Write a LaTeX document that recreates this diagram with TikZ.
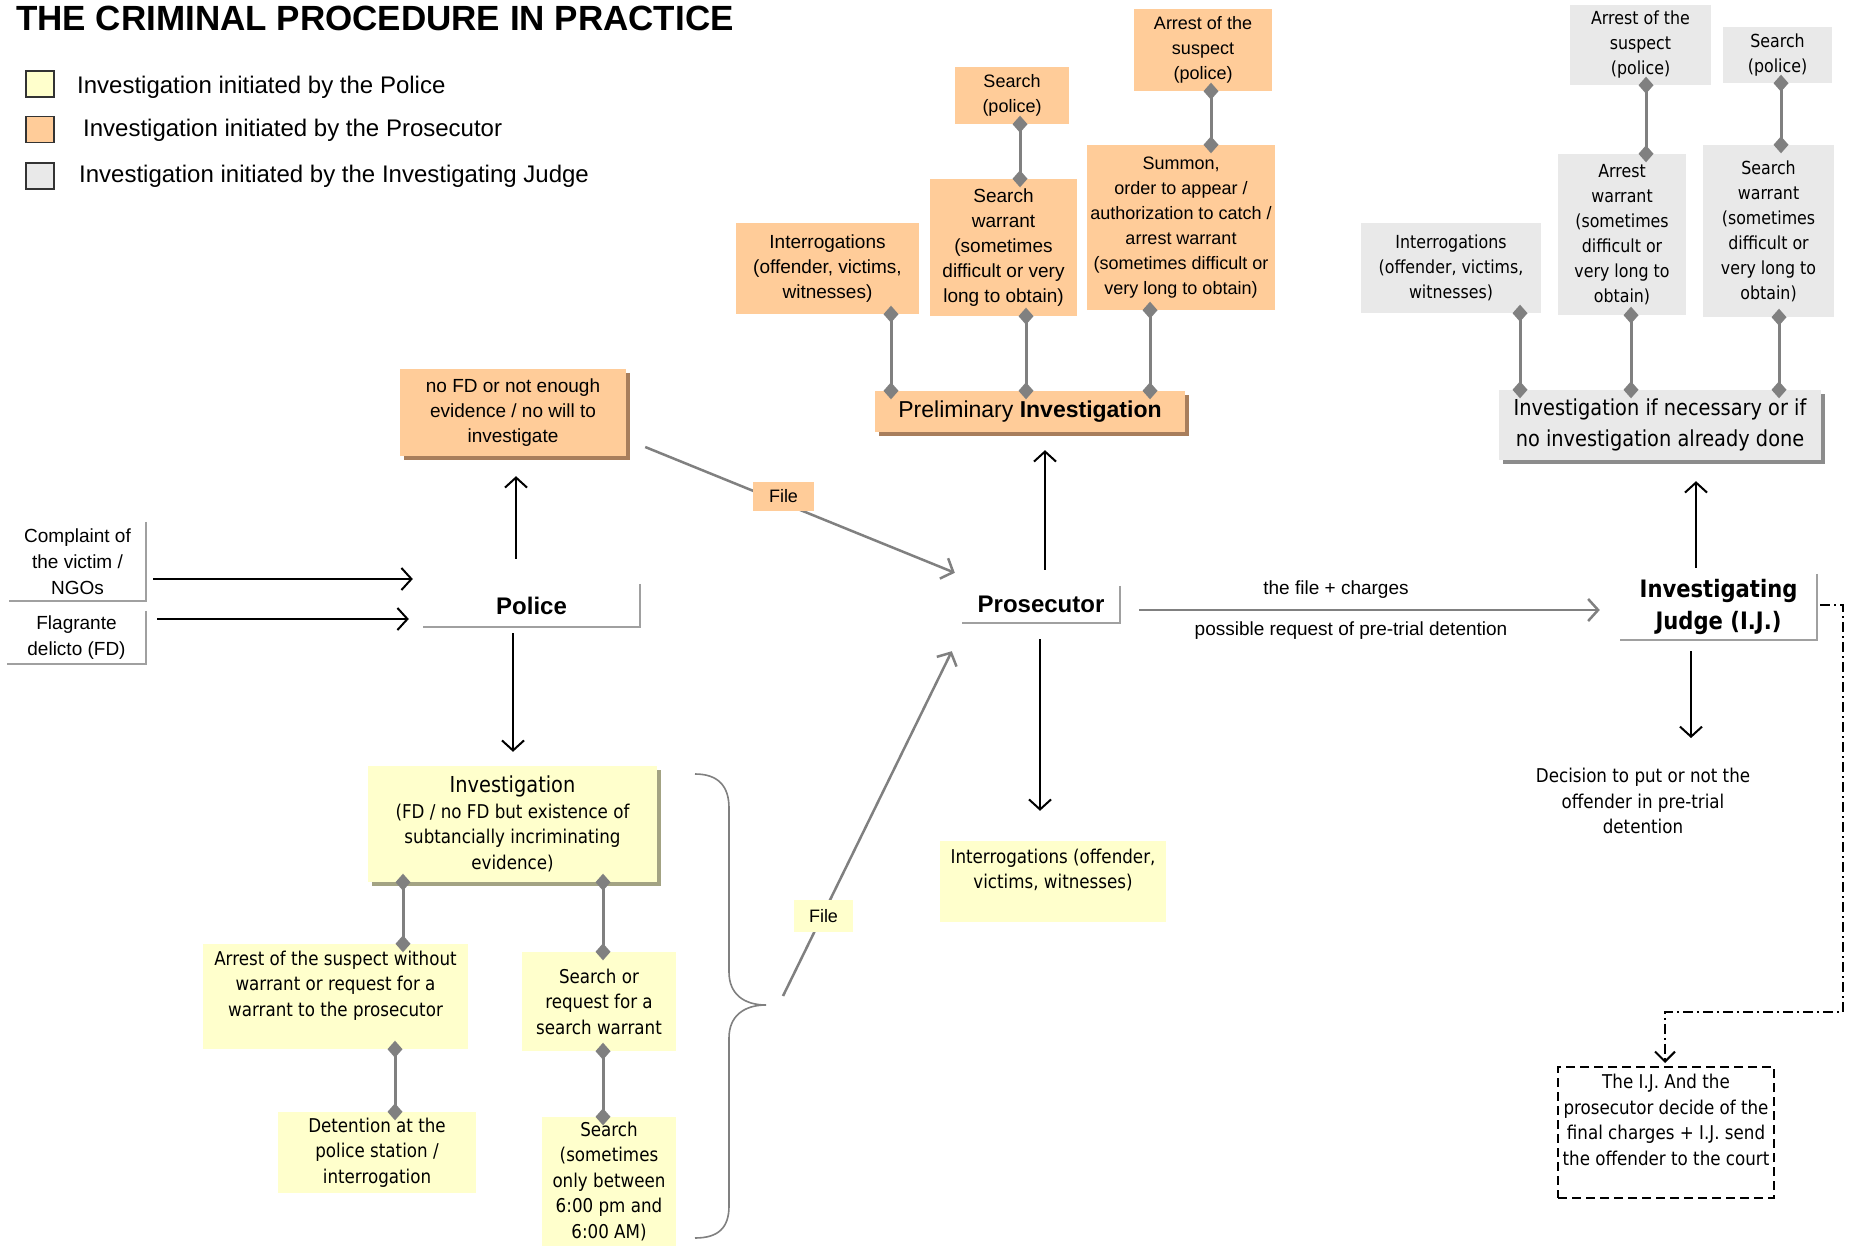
\documentclass[tikz,border=0pt]{standalone}
\usepackage{fontspec}
\setmainfont{Liberation Sans}
\newfontfamily\vfont{DejaVu Sans}[FakeStretch=0.88]
\usetikzlibrary{arrows.meta,calc}
\newcommand{\myfs}[2]{\fontsize{#1}{#2}\selectfont}
\definecolor{orfill}{HTML}{FFCC99}
\definecolor{yefill}{HTML}{FFFFCC}
\definecolor{grfill}{HTML}{E9E9E9}
\definecolor{orshadow}{HTML}{A87E5C}
\definecolor{grshadow}{HTML}{8C8C8C}
\definecolor{yeshadow}{HTML}{A3A383}
\definecolor{lgray}{HTML}{808080}
\definecolor{bgray}{HTML}{A0A0A0}
\tikzset{
  box/.style={align=center, inner sep=0pt},
  obox/.style={box, fill=orfill, font=\myfs{18}{25}},
  gbox/.style={box, fill=grfill, font=\vfont\myfs{18}{25}},
  ybox/.style={box, fill=yefill, font=\vfont\myfs{19}{25.5}},
  oshad/.style={preaction={fill=orshadow, transform canvas={shift={(4pt,-4pt)}}}},
  gshad/.style={preaction={fill=grshadow, transform canvas={shift={(4pt,-4pt)}}}},
  yshad/.style={preaction={fill=yeshadow, transform canvas={shift={(4pt,-4pt)}}}},
  dlink/.style={draw=lgray, line width=3pt, {Diamond[length=17pt,width=15pt]}-{Diamond[length=17pt,width=15pt]}, shorten <=-8.5pt, shorten >=-8.5pt},
  arr/.style={draw=black, line width=2pt, -{Straight Barb[length=10pt,width=22pt]}},
  garr/.style={draw=lgray, line width=2.5pt, -{Straight Barb[length=10pt,width=22pt]}},
  bline/.style={draw=bgray, line width=2.5pt},
  plain/.style={box, font=\myfs{19}{26}},
  legsq/.style={draw=black!80, line width=1.5pt, minimum width=28, minimum height=26, inner sep=0pt},
  legtx/.style={anchor=west, inner sep=0pt, font=\myfs{24}{28}},
  filelab/.style={box, font=\myfs{18}{22}}
}
\begin{document}
\begin{tikzpicture}[x=1pt,y=-1pt]
\useasboundingbox (0,0) rectangle (1849,1246);
\fill[white] (0,0) rectangle (1849,1246);

% title and legend
\node[anchor=west, inner sep=0pt, font=\bfseries\myfs{35}{40}] (title) at (16,18) {THE CRIMINAL PROCEDURE IN PRACTICE};
\node[legsq, fill=yefill] (lg1) at (40,84) {};
\node[legsq, fill=orfill] (lg2) at (40,129.5) {};
\node[legsq, fill=grfill] (lg3) at (40,176) {};
\node[legtx] (lt1) at (77,87) {Investigation initiated by the Police};
\node[legtx] (lt2) at (83,130) {Investigation initiated by the Prosecutor};
\node[legtx] (lt3) at (79,176) {Investigation initiated by the Investigating Judge};

% orange boxes
\node[obox, minimum width=138, minimum height=82] (oArr) at (1203,50) {Arrest of the\\suspect\\(police)};
\node[obox, minimum width=114, minimum height=57] (oSea) at (1012,95.5) {Search\\(police)};
\node[obox, minimum width=147, minimum height=137, font=\myfs{19}{25}] (oSW) at (1003.5,247.5) {Search\\warrant\\(sometimes\\difficult or very\\long to obtain)};
\node[obox, minimum width=188, minimum height=165] (oSum) at (1181,227.5) {Summon,\\order to appear /\\authorization to catch /\\arrest warrant\\(sometimes difficult or\\very long to obtain)};
\node[obox, minimum width=183, minimum height=91, font=\myfs{19}{25}] (oInt) at (827.5,268.5) {Interrogations\\(offender, victims,\\witnesses)};
\node[obox, oshad, minimum width=310, minimum height=41, font=\myfs{23}{26}] (oPre) at (1030,411.5) {Preliminary \textbf{Investigation}};
\node[obox, oshad, minimum width=226, minimum height=87, font=\myfs{19}{25}] (oNo) at (513,412.5) {no FD or not enough\\evidence / no will to\\investigate};

% gray boxes
\node[gbox, minimum width=141, minimum height=80] (gArr) at (1640.5,45) {Arrest of the\\suspect\\(police)};
\node[gbox, minimum width=109, minimum height=56] (gSea) at (1777.5,55) {Search\\(police)};
\node[gbox, minimum width=128, minimum height=161] (gAW) at (1622,234.5) {Arrest\\warrant\\(sometimes\\difficult or\\very long to\\obtain)};
\node[gbox, minimum width=131, minimum height=172] (gSW) at (1768.5,231) {Search\\warrant\\(sometimes\\difficult or\\very long to\\obtain)};
\node[gbox, minimum width=180, minimum height=90] (gInt) at (1451,268) {Interrogations\\(offender, victims,\\witnesses)};
\node[gbox, gshad, minimum width=322, minimum height=70, font=\vfont\myfs{22}{31}] (gInv) at (1660,425) {Investigation if necessary or if\\no investigation already done};

% yellow boxes
\node[ybox, yshad, minimum width=289, minimum height=116] (yInv) at (512.5,824) {{\myfs{22}{27}Investigation}\\(FD / no FD but existence of\\subtancially incriminating\\evidence)};
\node[ybox, minimum width=265, minimum height=105] (yArr) at (335.5,996.5) {Arrest of the suspect without\\warrant or request for a\\warrant to the prosecutor\\~};
\node[ybox, minimum width=154, minimum height=99] (ySR) at (599,1001.5) {Search or\\request for a\\search warrant};
\node[ybox, minimum width=198, minimum height=81] (yDet) at (377,1152.5) {Detention at the\\police station /\\interrogation};
\node[ybox, minimum width=134, minimum height=129] (ySea) at (609,1181.5) {Search\\(sometimes\\only between\\6:00 pm and\\6:00 AM)};
\node[ybox, minimum width=226, minimum height=81] (yInt) at (1053,881.5) {Interrogations (offender,\\victims, witnesses)\\~};

% actors
\node[plain, minimum width=137, minimum height=79] (cmp) at (77.5,561.5) {Complaint of\\the victim /\\NGOs};
\node[plain, minimum width=139, minimum height=53] (flg) at (76.5,637.5) {Flagrante\\delicto (FD)};
\node[box, minimum width=217, minimum height=43, font=\bfseries\myfs{24}{28}] (pol) at (531.5,605.5) {Police};
\node[box, minimum width=158, minimum height=37, font=\bfseries\myfs{24}{28}] (pro) at (1041,604.5) {Prosecutor};
\node[box, minimum width=197, minimum height=66, font=\vfont\bfseries\myfs{24}{32}] (ij) at (1718.5,607) {Investigating\\Judge (I.J.)};
\draw[bline] (cmp.north east) -- (cmp.south east) -- (cmp.south west);
\draw[bline] (flg.north east) -- (flg.south east) -- (flg.south west);
\draw[bline] (pol.north east) -- (pol.south east) -- (pol.south west);
\draw[bline] (pro.north east) -- (pro.south east) -- (pro.south west);
\draw[bline] (ij.north east) -- (ij.south east) -- (ij.south west);

\node[box, font=\vfont\myfs{19}{25.5}] (dec) at (1643,801) {Decision to put or not the\\offender in pre-trial\\detention};
\node[box, draw=black, line width=2pt, dash pattern=on 9pt off 5pt, minimum width=216, minimum height=131, font=\vfont\myfs{19}{25.5}] (dsh) at (1666,1132.5) {The I.J. And the\\prosecutor decide of the\\final charges + I.J. send\\the offender to the court\\~};

% diamond links
\draw[dlink] ($(oSea.south)+(8,0)$) -- ($(oSW.north)+(16.5,0)$);
\draw[dlink] ($(oArr.south)+(8,0)$) -- ($(oSum.north)+(30,0)$);
\draw[dlink] ($(oInt.south)+(63.5,0)$) -- ($(oPre.north)+(-139,0)$);
\draw[dlink] ($(oSW.south)+(22.5,0)$) -- ($(oPre.north)+(-4,0)$);
\draw[dlink] ($(oSum.south)+(-31,0)$) -- ($(oPre.north)+(120,0)$);
\draw[dlink] ($(gArr.south)+(5.5,0)$) -- ($(gAW.north)+(24,0)$);
\draw[dlink] ($(gSea.south)+(3.5,0)$) -- ($(gSW.north)+(12.5,0)$);
\draw[dlink] ($(gInt.south)+(69,0)$) -- ($(gInv.north)+(-140,0)$);
\draw[dlink] ($(gAW.south)+(9,0)$) -- ($(gInv.north)+(-29,0)$);
\draw[dlink] ($(gSW.south)+(10.5,0)$) -- ($(gInv.north)+(119,0)$);
\draw[dlink] ($(yInv.south)+(-109.5,0)$) -- ($(yArr.north)+(67.5,0)$);
\draw[dlink] ($(yInv.south)+(90.5,0)$) -- ($(ySR.north)+(4,0)$);
\draw[dlink] ($(yArr.south)+(59.5,0)$) -- ($(yDet.north)+(18,0)$);
\draw[dlink] ($(ySR.south)+(4,0)$) -- ($(ySea.north)+(-6,0)$);

% arrows
\draw[arr] ($(cmp.east)+(7,17.5)$) -- ($(pol.west)+(-10,-26.5)$);
\draw[arr] ($(flg.east)+(11,-18.5)$) -- ($(pol.west)+(-14,13.5)$);
\draw[arr] ($(pol.north)+(-15.5,-25)$) -- ($(oNo.south)+(3,20)$);
\draw[arr] ($(pol.south)+(-18.5,6)$) -- ($(yInv.north)+(0.5,-14)$);
\draw[arr] ($(pro.north)+(4,-16)$) -- ($(oPre.south)+(15,18)$);
\draw[arr] ($(pro.south)+(-1,16)$) -- ($(yInt.north)+(-13,-30)$);
\draw[arr] ($(ij.north)+(-22.5,-6)$) -- ($(gInv.south)+(36,21)$);
\draw[arr] ($(ij.south)+(-27.5,11)$) -- ($(dec.center)+(48,-63)$);
\draw[garr] ($(pro.east)+(19,5.5)$) -- ($(ij.west)+(-20,3)$);
\node[box, font=\myfs{19}{24}] (lab1) at (1336,590) {the file + charges};
\node[box, font=\myfs{19}{24}] (lab2) at (1351,631) {possible request of pre-trial detention};

% brace
\coordinate (brt) at (766,1005);
\draw[draw=lgray, line width=1.6pt] (695,774) .. controls (718,774) and (729,786) .. (729,808) -- (729,972) .. controls (729,994) and (744,1005) .. (brt) .. controls (744,1005) and (729,1016) .. (729,1038) -- (729,1206) .. controls (729,1228) and (718,1238) .. (695,1238);

% file lines
\draw[garr] ($(oNo.east)+(19,34.5)$) -- ($(pro.north west)+(-7,-13)$);
\node[filelab, fill=orfill, minimum width=61, minimum height=29] (file1) at (783.5,496.5) {File};
\draw[garr] ($(brt)+(17,-9)$) -- ($(pro.south west)+(-10,28)$);
\node[filelab, fill=yefill, minimum width=59, minimum height=32] (file2) at (823.5,916) {File};

% dash-dot link
\draw[draw=black, line width=2pt, dash pattern=on 10pt off 4pt on 2pt off 4pt, -{Straight Barb[length=10pt,width=20pt]}] ($(ij.east)+(3,-2)$) -- ++(23,0) -- ++(0,407) -| ($(dsh.north)+(-1,-3)$);
\end{tikzpicture}
\end{document}
